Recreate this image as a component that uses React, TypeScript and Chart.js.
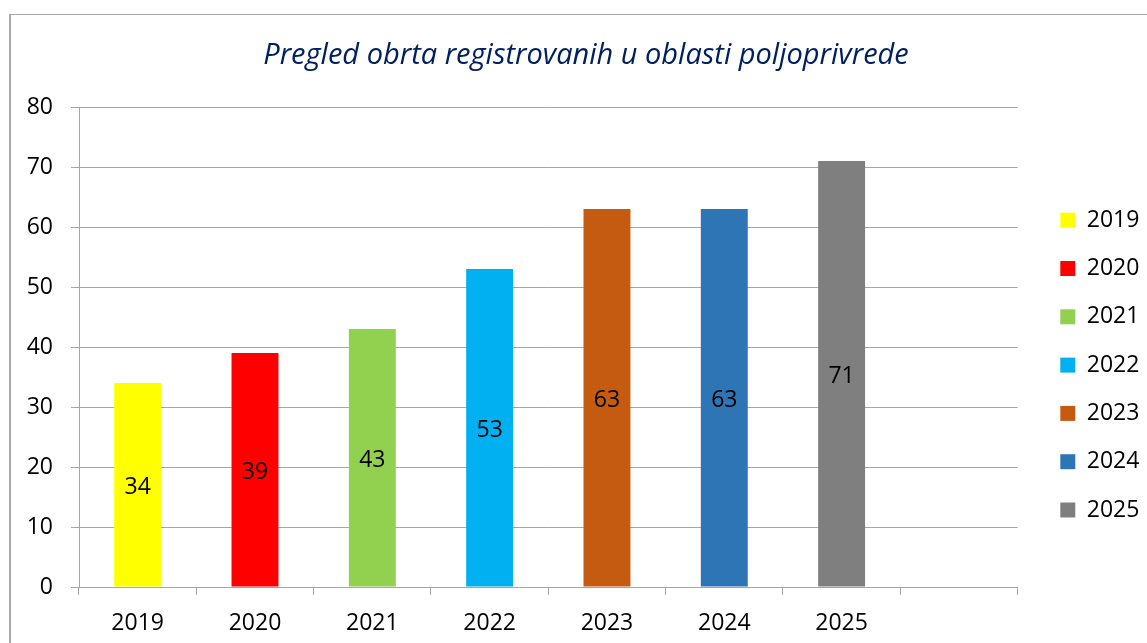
import { useEffect, useRef } from 'react';
import { Chart, registerables } from 'chart.js';

Chart.register(...registerables);

const titleText = 'Pregled obrta registrovanih u oblasti poljoprivrede';
const categories = ['2019', '2020', '2021', '2022', '2023', '2024', '2025', ''];
const seriesNames = ['2019', '2020', '2021', '2022', '2023', '2024', '2025'];
const seriesValues = [34, 39, 43, 53, 63, 63, 71];
const seriesColors = ['#FFFF00', '#FF0000', '#92D050', '#00B0F0', '#C55A11', '#2E75B6', '#7F7F7F'];
const yMin = 0;
const yMax = 80;
const yStep = 10;

const FONT = "'Open Sans', 'Liberation Sans', sans-serif";
const GRID = '#A6A6A6';

const valueLabels = {
  id: 'valueLabels',
  afterDatasetsDraw(chart: any) {
    const ctx = chart.ctx;
    ctx.save();
    ctx.font = `23px ${FONT}`;
    ctx.fillStyle = '#000000';
    ctx.textAlign = 'center';
    ctx.textBaseline = 'middle';
    chart.data.datasets.forEach((ds: any, i: number) => {
      const meta = chart.getDatasetMeta(i);
      meta.data.forEach((el: any, j: number) => {
        const v = ds.data[j];
        if (v === null || v === undefined) return;
        ctx.fillText(String(v), el.x, (el.y + el.base) / 2 + 2.5);
      });
    });
    ctx.restore();
  },
};

export default function App() {
  const ref = useRef<HTMLCanvasElement | null>(null);

  useEffect(() => {
    if (!ref.current) return;
    const datasets = seriesNames.map((name, i) => ({
      label: name,
      data: categories.map((_, j) => (j === i ? seriesValues[i] : null)),
      backgroundColor: seriesColors[i],
      borderWidth: 0,
      barPercentage: 0.4,
      categoryPercentage: 1.0,
    }));
    const chart = new Chart(ref.current, {
      type: 'bar',
      data: { labels: categories, datasets },
      plugins: [valueLabels],
      options: {
        animation: false,
        responsive: false,
        maintainAspectRatio: false,
        layout: { padding: { left: 25, right: 0, top: 0, bottom: 0 } },
        plugins: {
          tooltip: { enabled: false },
          title: {
            display: true,
            text: titleText,
            color: '#002060',
            font: { family: FONT, size: 29, style: 'italic', weight: 'normal', lineHeight: 1.2 },
            padding: { top: 38.6, bottom: 33.6 },
          },
          legend: {
            display: true,
            position: 'right',
            align: 'center',
            fullSize: false,
            maxWidth: 112,
            title: { display: true, text: '', font: { size: 12, lineHeight: 1.2 }, padding: { top: 0, bottom: 21.8 } },
            labels: {
              boxWidth: 15,
              boxHeight: 15,
              padding: 25.3,
              color: '#000000',
              font: { family: FONT, size: 23, lineHeight: 1 },
            },
          },
        },
        scales: {
          x: {
            stacked: true,
            offset: true,
            grid: { display: true, offset: true, drawOnChartArea: false, drawTicks: true, tickLength: 8, color: GRID, lineWidth: 1 },
            border: { display: true, color: GRID, width: 1 },
            ticks: { color: '#000000', font: { family: FONT, size: 23, lineHeight: 1.2 }, padding: 15, maxRotation: 0, autoSkip: false },
            afterFit: (s: any) => { s.height = 56; },
          },
          y: {
            stacked: true,
            min: yMin,
            max: yMax,
            grid: { color: GRID, lineWidth: 1, tickLength: 8, drawTicks: true },
            border: { display: true, color: GRID, width: 1 },
            ticks: { stepSize: yStep, color: '#000000', font: { family: FONT, size: 23, lineHeight: 1.2 }, padding: 18 },
            afterFit: (s: any) => { s.width = 54; },
          },
          y2: {
            position: 'right',
            display: true,
            grid: { display: false, drawTicks: false },
            border: { display: false },
            ticks: { display: false },
            afterFit: (s: any) => { s.width = 17.4; },
          },
        },
      },
    });
    return () => chart.destroy();
  }, []);

  return (
    <div style={{ position: 'fixed', left: 0, top: 0, width: 1147, height: 643, overflow: 'hidden', background: '#ffffff' }}>
      <div style={{ position: 'absolute', left: 9, top: 14, width: 1200, height: 700, borderLeft: `2px solid ${GRID}`, borderTop: `1px solid ${GRID}` }} />
      <canvas ref={ref} width={1147} height={643} style={{ position: 'absolute', left: 0, top: 0, width: 1147, height: 643 }} />
    </div>
  );
}
